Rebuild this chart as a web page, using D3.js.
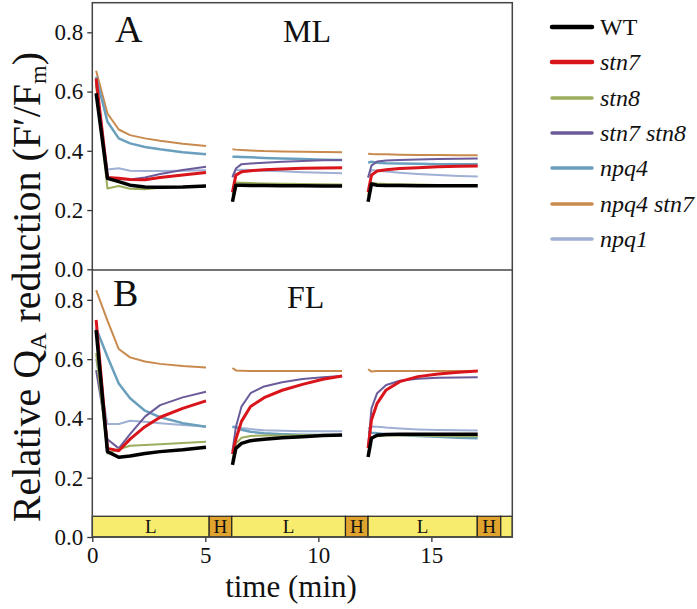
<!DOCTYPE html>
<html><head><meta charset="utf-8">
<script src="https://cdn.jsdelivr.net/npm/d3@7/dist/d3.min.js"></script>
<style>body{margin:0;background:#fff}svg{display:block}text{font-family:"Liberation Serif","Times New Roman",serif;fill:#111}</style>
</head><body><svg id="c" width="697" height="609"></svg>
<script>
// ---- data ----
const timesMin = [0.17,0.67,1.17,1.67,2.33,3.0,4.0,5.03,
  6.2,6.35,6.6,7.0,7.6,8.4,9.3,10.2,11.05,
  12.2,12.35,12.6,13.0,13.6,14.4,15.3,16.2,17.05];
const lightPeriod = [1,1,1,1,1,1,1,1, 2,2,2,2,2,2,2,2,2, 3,3,3,3,3,3,3,3,3];
const genotypes = ["WT","stn7","stn8","stn7 stn8","npq4","npq4 stn7","npq1"];
const italicNames = [false,true,true,true,true,true,true];
const colors = ["#000000","#d9141b","#9bae5c","#6b5b9a","#6a9fbd","#c98a4e","#9fb0d4"];
const widths = [3.5,3,2,2,2.5,2,2];
const drawOrder = [5,6,4,3,2,1,0];

const mlWT      = [0.594,0.307,0.296,0.284,0.278,0.277,0.278,0.281, 0.228,0.284,0.284,0.283,0.283,0.282,0.282,0.281,0.281, 0.228,0.288,0.284,0.283,0.283,0.282,0.282,0.282,0.282];
const mlStn7    = [0.644,0.31,0.307,0.303,0.302,0.31,0.318,0.327, 0.26,0.318,0.329,0.333,0.336,0.339,0.341,0.342,0.343, 0.26,0.318,0.332,0.336,0.34,0.343,0.346,0.348,0.349];
const mlStn8    = [0.62,0.273,0.281,0.272,0.27,0.275,0.278,0.28, 0.25,0.293,0.292,0.291,0.29,0.289,0.288,0.287,0.286, 0.25,0.292,0.29,0.288,0.287,0.286,0.285,0.285,0.284];
const mlStn7Stn8= [0.63,0.31,0.305,0.303,0.31,0.322,0.335,0.346, 0.31,0.34,0.355,0.357,0.36,0.363,0.366,0.368,0.369, 0.31,0.35,0.364,0.367,0.369,0.371,0.372,0.373,0.374];
const mlNpq4    = [0.65,0.498,0.442,0.425,0.413,0.405,0.395,0.388, 0.38,0.38,0.379,0.378,0.376,0.374,0.372,0.37,0.369, 0.36,0.363,0.36,0.358,0.357,0.356,0.355,0.355,0.355];
const mlNpq4Stn7= [0.67,0.526,0.472,0.453,0.442,0.434,0.424,0.416, 0.405,0.404,0.403,0.401,0.399,0.398,0.397,0.396,0.395, 0.39,0.389,0.388,0.388,0.387,0.386,0.386,0.385,0.385];
const mlNpq1    = [0.63,0.337,0.341,0.333,0.332,0.332,0.333,0.334, 0.315,0.335,0.336,0.335,0.333,0.331,0.328,0.326,0.324, 0.31,0.335,0.333,0.33,0.326,0.322,0.318,0.315,0.313];

const flWT      = [0.698,0.288,0.269,0.273,0.282,0.288,0.294,0.303, 0.243,0.299,0.316,0.325,0.33,0.335,0.338,0.342,0.344, 0.27,0.333,0.343,0.346,0.347,0.347,0.347,0.347,0.347];
const flStn7    = [0.732,0.299,0.291,0.33,0.372,0.404,0.434,0.459, 0.28,0.33,0.39,0.44,0.47,0.495,0.515,0.532,0.543, 0.3,0.395,0.451,0.496,0.524,0.541,0.55,0.556,0.56];
const flStn8    = [0.62,0.282,0.296,0.308,0.31,0.313,0.317,0.321, 0.26,0.315,0.335,0.341,0.342,0.342,0.343,0.343,0.344, 0.28,0.335,0.34,0.342,0.342,0.342,0.341,0.34,0.34];
const flStn7Stn8= [0.563,0.33,0.299,0.347,0.406,0.445,0.471,0.49, 0.29,0.37,0.44,0.485,0.508,0.522,0.533,0.539,0.543, 0.3,0.434,0.485,0.513,0.527,0.534,0.537,0.538,0.539];
const flNpq4    = [0.704,0.608,0.518,0.468,0.426,0.404,0.384,0.372, 0.372,0.37,0.362,0.355,0.35,0.347,0.345,0.344,0.343, 0.355,0.352,0.35,0.347,0.344,0.341,0.338,0.335,0.333];
const flNpq4Stn7= [0.833,0.73,0.634,0.606,0.592,0.584,0.577,0.572, 0.57,0.562,0.561,0.56,0.56,0.56,0.56,0.56,0.56, 0.566,0.558,0.56,0.56,0.56,0.56,0.56,0.56,0.56];
const flNpq1    = [0.6,0.381,0.381,0.392,0.389,0.384,0.378,0.373, 0.37,0.372,0.368,0.364,0.36,0.358,0.357,0.357,0.357, 0.365,0.373,0.372,0.369,0.366,0.363,0.361,0.36,0.359];

const mlSeries = [mlWT,mlStn7,mlStn8,mlStn7Stn8,mlNpq4,mlNpq4Stn7,mlNpq1];
const flSeries = [flWT,flStn7,flStn8,flStn7Stn8,flNpq4,flNpq4Stn7,flNpq1];

const phaseStart = [0,5.17,6.17,11.2,12.2,17.03,18.07];
const phaseEnd   = [5.17,6.17,11.2,12.2,17.03,18.07,18.58];
const phaseLabel = ["L","H","L","H","L","H",""];
const phaseBarTop = 0.07;

const xTicks = [0,5,10,15];
const yTicks = [0,0.2,0.4,0.6,0.8];

// ---- layout ----
const FONT = '"Liberation Serif","Times New Roman",serif';
const svg = d3.select("#c");
const L = 92.3, R = 512.3;
const x = d3.scaleLinear().domain([0,18.58]).range([L,R]);
const yA = d3.scaleLinear().domain([0,0.9]).range([269.3,2.7]);
const yB = d3.scaleLinear().domain([0,0.9]).range([537,270.2]);

// phase bar
const bar = svg.append("g");
phaseStart.forEach((s,i)=>{
  bar.append("rect").attr("x",x(s)).attr("y",yB(phaseBarTop)).attr("width",x(phaseEnd[i])-x(s))
    .attr("height",yB(0)-yB(phaseBarTop)).attr("fill",phaseLabel[i]==="H"?"#e0a32e":"#f7ec6e")
    .attr("stroke","#222").attr("stroke-width",1.2);
  if(phaseLabel[i]) bar.append("text").attr("x",(x(s)+x(phaseEnd[i]))/2).attr("y",yB(0)-4.5)
    .attr("text-anchor","middle").attr("font-size",19).attr("font-family",FONT).text(phaseLabel[i]);
});

// lines
function segs(vals){
  const groups = d3.groups(timesMin.map((t,i)=>[t,vals[i],lightPeriod[i]]), d=>d[2]);
  return groups.map(g=>g[1]);
}
function drawPanel(series,y){
  const line = d3.line().x(d=>x(d[0])).y(d=>y(d[1]));
  const g = svg.append("g");
  drawOrder.forEach(k=>{
    segs(series[k]).forEach(s=>{
      g.append("path").attr("d",line(s)).attr("fill","none").attr("stroke",colors[k])
        .attr("stroke-width",widths[k]).attr("stroke-linejoin","round");
    });
  });
}
drawPanel(mlSeries,yA);
drawPanel(flSeries,yB);

// axes
function styleAxis(g){
  g.selectAll("path").remove();
  g.selectAll("line").attr("stroke","#333").attr("stroke-width",1.3);
  g.selectAll("text").attr("font-size",23).attr("fill","#111").attr("font-family",FONT);
}
const fmt = d3.format(".1f");
svg.append("g").attr("transform",`translate(${L},0)`)
  .call(d3.axisLeft(yA).tickValues(yTicks).tickFormat(fmt).tickSize(5).tickPadding(4)).call(styleAxis);
svg.append("g").attr("transform",`translate(${L},0)`)
  .call(d3.axisLeft(yB).tickValues(yTicks).tickFormat(fmt).tickSize(5).tickPadding(4)).call(styleAxis);
svg.append("g").attr("transform",`translate(0,${yB(0)})`)
  .call(d3.axisBottom(x).tickValues(xTicks).tickFormat(d3.format("d")).tickSize(5).tickPadding(5)).call(styleAxis);
svg.selectAll("g").attr("font-family",FONT);

// frame
svg.append("rect").attr("x",L).attr("y",2.7).attr("width",R-L).attr("height",537-2.7)
  .attr("fill","none").attr("stroke","#444").attr("stroke-width",1.5);
svg.append("line").attr("x1",L).attr("x2",R).attr("y1",270).attr("y2",270)
  .attr("stroke","#444").attr("stroke-width",1.5);

// panel labels
function txt(xp,yp,size,s){return svg.append("text").attr("x",xp).attr("y",yp).attr("font-size",size).attr("font-family",FONT).text(s);}
txt(115,41.5,38,"A");
txt(283,41.5,32,"ML");
txt(113,306,38,"B");
txt(287,308,32,"FL");

// axis titles
txt(291,597,31,"time (min)").attr("text-anchor","middle");
const yt = svg.append("text").attr("transform","translate(40,287) rotate(-90)").attr("text-anchor","middle")
  .attr("font-size",40).attr("font-family",FONT);
yt.append("tspan").text("Relative Q");
yt.append("tspan").attr("font-size",24).attr("dy",6).text("A");
yt.append("tspan").attr("dy",-6).text(" reduction (F\u2032/F");
yt.append("tspan").attr("font-size",24).attr("dy",6).text("m");
yt.append("tspan").attr("dy",-6).text(")");

// legend
const rowY = [27,62,98,133,168,204,239];
genotypes.forEach((name,i)=>{
  svg.append("line").attr("x1",552).attr("x2",592).attr("y1",rowY[i]).attr("y2",rowY[i])
    .attr("stroke",colors[i]).attr("stroke-width",i<2?4.5:3.5).attr("stroke-linecap","round");
  txt(600,rowY[i]+8,24,name).attr("font-style",italicNames[i]?"italic":"normal");
});
</script></body></html>
